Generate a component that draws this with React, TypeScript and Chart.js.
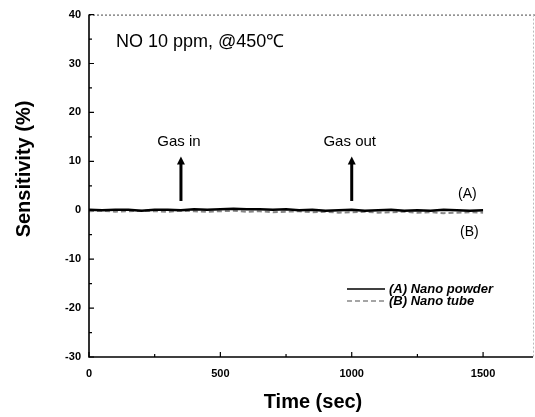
import React, { useEffect, useRef } from "react";
import { Chart, registerables } from "chart.js";

Chart.register(...registerables);

// ---- data ----
const timeSec = [
  0, 50, 100, 150, 200, 250, 300, 350, 400, 450, 500, 550, 600, 650, 700, 750,
  800, 850, 900, 950, 1000, 1050, 1100, 1150, 1200, 1250, 1300, 1350, 1400, 1450, 1500,
];
const nanoPowder = [
  0.1, 0.0, 0.1, 0.1, -0.1, 0.1, 0.1, 0.0, 0.2, 0.1, 0.2, 0.3, 0.2, 0.2, 0.1, 0.2,
  0.0, 0.1, -0.1, 0.0, 0.1, -0.1, 0.0, 0.1, -0.1, 0.0, -0.1, 0.1, 0.0, -0.1, 0.0,
];
const nanoTube = [
  -0.2, -0.1, -0.3, -0.2, -0.1, -0.2, -0.3, -0.1, -0.2, -0.3, -0.2, -0.1, -0.3, -0.2, -0.4, -0.3,
  -0.2, -0.4, -0.3, -0.5, -0.4, -0.3, -0.5, -0.4, -0.3, -0.5, -0.4, -0.6, -0.5, -0.4, -0.5,
];
const seriesNames = ["(A) Nano powder", "(B) Nano tube"];
const seriesTags = ["(A)", "(B)"];
const seriesTagTime = [1440, 1448];
const seriesTagLevel = [3.2, -4.4];

const xTickValues = [0, 500, 1000, 1500];
const xMinorTicks = [250, 750, 1250];
const yTickValues = [-30, -20, -10, 0, 10, 20, 30, 40];
const yMinorTicks = [-25, -15, -5, 5, 15, 25, 35];

const gasEventTimes = [350, 1000];
const gasEventLabels = ["Gas in", "Gas out"];
const arrowFrom = 1.9;
const arrowTo = 11;
const gasLabelLevel = 14;

const chartTitle = "NO 10 ppm, @450\u2103";
const xTitle = "Time (sec)";
const yTitle = "Sensitivity (%)";

const FONT = "Arial, 'Liberation Sans', sans-serif";

const overlayPlugin = {
  id: "overlay",
  afterDraw(chart: any) {
    const { ctx, chartArea: a, scales } = chart;
    const x = scales.x;
    const y = scales.y;
    ctx.save();

    // top & right dotted borders
    ctx.setLineDash([2, 2]);
    ctx.lineWidth = 1.2;
    ctx.strokeStyle = "#666";
    ctx.beginPath();
    ctx.moveTo(a.left, a.top + 0.5);
    ctx.lineTo(chart.width, a.top + 0.5);
    ctx.stroke();
    ctx.lineWidth = 1;
    ctx.strokeStyle = "#bbb";
    ctx.beginPath();
    ctx.moveTo(a.right + 0.5, a.top);
    ctx.lineTo(a.right + 0.5, a.bottom);
    ctx.stroke();
    ctx.setLineDash([]);

    // left & bottom axes
    ctx.strokeStyle = "#000";
    ctx.lineWidth = 1.6;
    ctx.beginPath();
    ctx.moveTo(a.left, a.top);
    ctx.lineTo(a.left, a.bottom);
    ctx.lineTo(a.right, a.bottom);
    ctx.stroke();

    // inward ticks
    ctx.lineWidth = 1.2;
    ctx.beginPath();
    yTickValues.forEach((v) => {
      const py = y.getPixelForValue(v);
      ctx.moveTo(a.left, py);
      ctx.lineTo(a.left + 5, py);
    });
    yMinorTicks.forEach((v) => {
      const py = y.getPixelForValue(v);
      ctx.moveTo(a.left, py);
      ctx.lineTo(a.left + 3, py);
    });
    xTickValues.forEach((v) => {
      const px = x.getPixelForValue(v);
      ctx.moveTo(px, a.bottom);
      ctx.lineTo(px, a.bottom - 5);
    });
    xMinorTicks.forEach((v) => {
      const px = x.getPixelForValue(v);
      ctx.moveTo(px, a.bottom);
      ctx.lineTo(px, a.bottom - 3);
    });
    ctx.stroke();

    // arrows
    ctx.fillStyle = "#000";
    gasEventTimes.forEach((t, i) => {
      const px = x.getPixelForValue(t);
      const yb = y.getPixelForValue(arrowFrom);
      const yt = y.getPixelForValue(arrowTo);
      ctx.lineWidth = 3;
      ctx.beginPath();
      ctx.moveTo(px, yb);
      ctx.lineTo(px, yt + 6);
      ctx.stroke();
      ctx.beginPath();
      ctx.moveTo(px, yt);
      ctx.lineTo(px - 4, yt + 8);
      ctx.lineTo(px + 4, yt + 8);
      ctx.closePath();
      ctx.fill();
      ctx.font = `15px ${FONT}`;
      ctx.textAlign = "center";
      ctx.textBaseline = "middle";
      ctx.fillText(gasEventLabels[i], px - 2, y.getPixelForValue(gasLabelLevel));
    });

    // series tags
    ctx.font = `14px ${FONT}`;
    seriesTags.forEach((s, i) => {
      ctx.fillText(s, x.getPixelForValue(seriesTagTime[i]), y.getPixelForValue(seriesTagLevel[i]));
    });

    // chart title
    ctx.font = `18px ${FONT}`;
    ctx.textAlign = "left";
    ctx.fillText(chartTitle, 116, 42);

    // legend
    const ds = chart.data.datasets;
    const lx0 = 347;
    const lx1 = 385;
    const ly = [289, 301];
    ds.forEach((d: any, i: number) => {
      ctx.strokeStyle = d.borderColor;
      ctx.lineWidth = 1.4;
      ctx.setLineDash(d.borderDash || []);
      ctx.beginPath();
      ctx.moveTo(lx0, ly[i]);
      ctx.lineTo(lx1, ly[i]);
      ctx.stroke();
      ctx.setLineDash([]);
      ctx.fillStyle = "#000";
      ctx.font = `italic bold 13px ${FONT}`;
      ctx.textAlign = "left";
      ctx.fillText(d.label, 389, ly[i]);
    });

    // axis titles
    ctx.font = `bold 20px ${FONT}`;
    ctx.textAlign = "center";
    ctx.fillText(xTitle, 313, 402);
    ctx.save();
    ctx.translate(24, 169);
    ctx.rotate(-Math.PI / 2);
    ctx.fillText(yTitle, 0, 0);
    ctx.restore();

    ctx.restore();
  },
};

export default function App() {
  const ref = useRef<HTMLCanvasElement | null>(null);

  useEffect(() => {
    if (!ref.current) return;
    const chart = new Chart(ref.current, {
      type: "line",
      data: {
        datasets: [
          {
            label: seriesNames[0],
            data: timeSec.map((t, i) => ({ x: t, y: nanoPowder[i] })),
            borderColor: "#000",
            borderWidth: 2.4,
            pointRadius: 0,
            tension: 0,
          },
          {
            label: seriesNames[1],
            data: timeSec.map((t, i) => ({ x: t, y: nanoTube[i] })),
            borderColor: "#888",
            borderWidth: 2,
            borderDash: [5, 3],
            pointRadius: 0,
            tension: 0,
          },
        ],
      },
      options: {
        responsive: false,
        animation: false,
        layout: { padding: { top: 12, right: 2, left: 0, bottom: 0 } },
        plugins: { legend: { display: false }, tooltip: { enabled: false } },
        scales: {
          x: {
            type: "linear",
            min: 0,
            max: 1690,
            grid: { display: false, drawTicks: false },
            border: { display: false },
            afterBuildTicks: (s: any) => {
              s.ticks = xTickValues.map((v) => ({ value: v }));
            },
            afterFit: (s: any) => {
              s.height = 60;
            },
            ticks: {
              padding: 10,
              maxRotation: 0,
              color: "#000",
              callback: (v: any) => String(v),
              font: { family: FONT, size: 11, weight: "bold" },
            },
          },
          y: {
            type: "linear",
            min: -30,
            max: 40,
            grid: { display: false, drawTicks: false },
            border: { display: false },
            afterBuildTicks: (s: any) => {
              s.ticks = yTickValues.map((v) => ({ value: v }));
            },
            afterFit: (s: any) => {
              s.width = 89;
            },
            ticks: {
              padding: 8,
              color: "#000",
              callback: (v: any) => String(v),
              font: { family: FONT, size: 11, weight: "bold" },
            },
          },
        },
      },
      plugins: [overlayPlugin],
    } as any);
    return () => chart.destroy();
  }, []);

  return (
    <div style={{ position: "absolute", left: 0, top: 0, width: 535, height: 417, background: "#fff" }}>
      <canvas ref={ref} width={535} height={417} style={{ display: "block" }} />
    </div>
  );
}
